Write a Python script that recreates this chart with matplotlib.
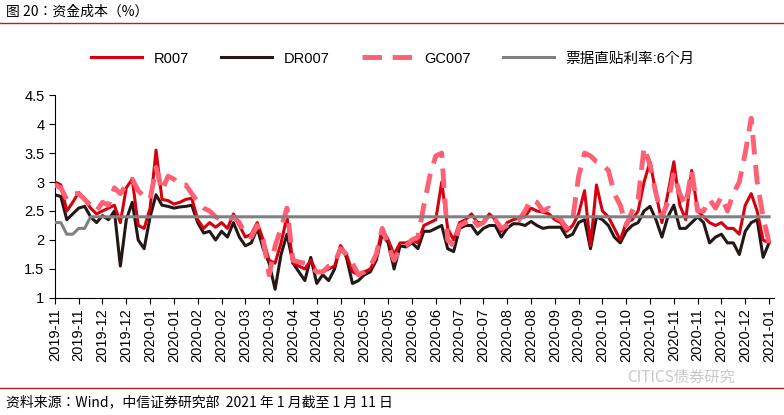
import numpy as np
import matplotlib.pyplot as plt

CJK = "Noto Sans CJK JP"
plt.rcParams["font.family"] = ["Liberation Sans", CJK]

# =========================================
# Data (sampled every quarter tick interval)
# =========================================
tick_labels = ["2019-11", "2019-11", "2019-12", "2019-12", "2020-01", "2020-01",
               "2020-02", "2020-02", "2020-03", "2020-03", "2020-04", "2020-04",
               "2020-05", "2020-05", "2020-05", "2020-06", "2020-06", "2020-07",
               "2020-07", "2020-08", "2020-08", "2020-09", "2020-09", "2020-10",
               "2020-10", "2020-10", "2020-11", "2020-11", "2020-12", "2020-12",
               "2021-01"]

r007 = [3.0, 2.95, 2.5, 2.65, 2.82, 2.7, 2.55, 2.45, 2.5, 2.55, 2.6, 2.3,
        2.9, 3.05, 2.25, 2.2, 2.55, 3.55, 2.7, 2.68, 2.62, 2.65, 2.7, 2.72,
        2.35, 2.2, 2.3, 2.22, 2.3, 2.2, 2.45, 2.25, 2.05, 2.1, 2.3, 2.0,
        1.65, 1.6, 1.95, 2.4, 1.6, 1.55, 1.5, 1.65, 1.45, 1.45, 1.5, 1.55,
        1.9, 1.75, 1.45, 1.4, 1.45, 1.5, 1.7, 2.2, 2.0, 1.75, 1.95, 1.95,
        2.0, 1.95, 2.25, 2.3, 2.35, 3.0, 2.2, 2.0, 2.3, 2.35, 2.45, 2.3,
        2.3, 2.45, 2.35, 2.15, 2.3, 2.35, 2.38, 2.4, 2.55, 2.5, 2.48, 2.45,
        2.35, 2.3, 2.15, 2.25, 2.45, 2.85, 1.9, 2.95, 2.5, 2.4, 2.2, 2.0,
        2.3, 2.35, 2.5, 3.0, 3.35, 2.8, 2.3, 2.8, 3.35, 2.6, 2.35, 3.2,
        2.5, 2.4, 2.3, 2.25, 2.3, 2.2, 2.2, 2.1, 2.6, 2.8, 2.5, 2.0, 1.95]

dr007 = [2.78, 2.75, 2.35, 2.45, 2.55, 2.58, 2.4, 2.3, 2.42, 2.35, 2.5, 1.55,
         2.35, 2.65, 2.0, 1.85, 2.4, 2.78, 2.6, 2.58, 2.55, 2.57, 2.58, 2.6,
         2.3, 2.12, 2.15, 2.0, 2.15, 2.05, 2.3, 2.05, 1.9, 1.95, 2.2, 1.85,
         1.6, 1.15, 1.75, 2.1, 1.6, 1.45, 1.3, 1.7, 1.25, 1.4, 1.3, 1.5,
         1.9, 1.7, 1.25, 1.3, 1.4, 1.45, 1.65, 2.1, 1.95, 1.5, 1.9, 1.88,
         1.95, 1.85, 2.15, 2.15, 2.2, 2.25, 1.85, 1.8, 2.2, 2.25, 2.25, 2.1,
         2.2, 2.25, 2.25, 2.05, 2.2, 2.28, 2.28, 2.25, 2.32, 2.25, 2.2, 2.22,
         2.22, 2.22, 2.05, 2.1, 2.3, 2.35, 1.85, 2.4, 2.35, 2.25, 2.05, 1.95,
         2.15, 2.25, 2.3, 2.5, 2.58, 2.35, 2.05, 2.4, 2.6, 2.2, 2.2, 2.3,
         2.4, 2.3, 1.95, 2.05, 2.1, 1.95, 1.95, 1.75, 2.15, 2.3, 2.35, 1.7, 1.95]

gc007 = [2.95, 2.9, 2.7, 2.8, 2.8, 2.7, 2.6, 2.5, 2.65, 2.6, 2.9, 2.8,
         2.95, 3.05, 2.85, 2.75, 2.7, 3.25, 2.85, 3.1, 3.05, 2.95, 2.95, 2.8,
         2.65, 2.55, 2.5, 2.4, 2.35, 2.35, 2.4, 2.3, 2.1, 2.05, 2.25, 2.0,
         1.4, 1.9, 2.2, 2.55, 1.65, 1.62, 1.6, 1.55, 1.45, 1.45, 1.55, 1.6,
         1.85, 1.75, 1.6, 1.4, 1.45, 1.55, 1.75, 2.2, 1.9, 1.65, 1.85, 1.9,
         2.0, 2.05, 2.6, 3.1, 3.45, 3.5, 2.0, 1.9, 2.25, 2.3, 2.4, 2.25,
         2.3, 2.45, 2.35, 2.2, 2.25, 2.3, 2.35, 2.5, 2.7, 2.65, 2.5, 2.55,
         2.4, 2.35, 2.2, 2.35, 3.1, 3.5, 3.45, 3.35, 3.3, 3.2, 2.8, 2.6,
         2.25, 2.5, 2.7, 3.6, 3.3, 2.8, 2.4, 2.65, 3.15, 2.8, 2.6, 3.2,
         2.5, 2.5, 2.7, 2.55, 2.75, 2.5, 2.8, 3.0, 3.5, 4.1, 3.0, 2.4, 1.95]

bill_6m = [2.3] * 2 + [2.1] * 2 + [2.2] * 2 + [2.4] * 115

x = np.arange(len(r007)) / 4.0

# =========================================
# Plot
# =========================================
fig = plt.figure(figsize=(7.84, 4.15), dpi=100)
ax = fig.add_axes([0.070, 0.282, 0.917, 0.489])

ax.plot(x, r007, color="#D7000F", lw=2.2, label="R007", zorder=3)
ax.plot(x, dr007, color="#231815", lw=2.2, label="DR007", zorder=2)
ax.plot(x, gc007, color="#FF6074", lw=3.5, dashes=(4, 2.2), label="GC007", zorder=4)
ax.plot(x, bill_6m, color="#808080", lw=2.2, label="票据直贴利率:6个月", zorder=5)

ax.set_xlim(0, 30.2)
ax.set_ylim(1, 4.5)
ax.set_yticks(np.arange(1, 4.51, 0.5))
ax.set_yticklabels(["1", "1.5", "2", "2.5", "3", "3.5", "4", "4.5"])
ax.set_xticks(np.arange(len(tick_labels)))
ax.set_xticklabels(tick_labels, rotation=90)
ax.tick_params(axis="both", labelsize=10.5, direction="out", length=4, colors="black")
for s in ["top", "right"]:
    ax.spines[s].set_visible(False)

ax.legend(loc="center", bbox_to_anchor=(0.47, 1.18), ncol=4, frameon=False,
          fontsize=10.5, handlelength=3.5, columnspacing=2.2)

# Title, source and separator lines
fig.text(0.008, 0.972, "图 20：资金成本（%）", fontsize=10, va="center", family=CJK)
fig.add_artist(plt.Line2D([0, 1], [0.944, 0.944], color="#B22222", lw=1))
fig.add_artist(plt.Line2D([0, 1], [0.065, 0.065], color="#B22222", lw=1))
fig.text(0.008, 0.030, "资料来源：Wind，中信证券研究部  2021 年 1 月截至 1 月 11 日",
         fontsize=10, va="center", family=CJK)
fig.text(0.80, 0.090, "CITICS债券研究", fontsize=11, color="#C8C8C8",
         va="center", family=CJK)

fig.savefig("out.png", dpi=100)
